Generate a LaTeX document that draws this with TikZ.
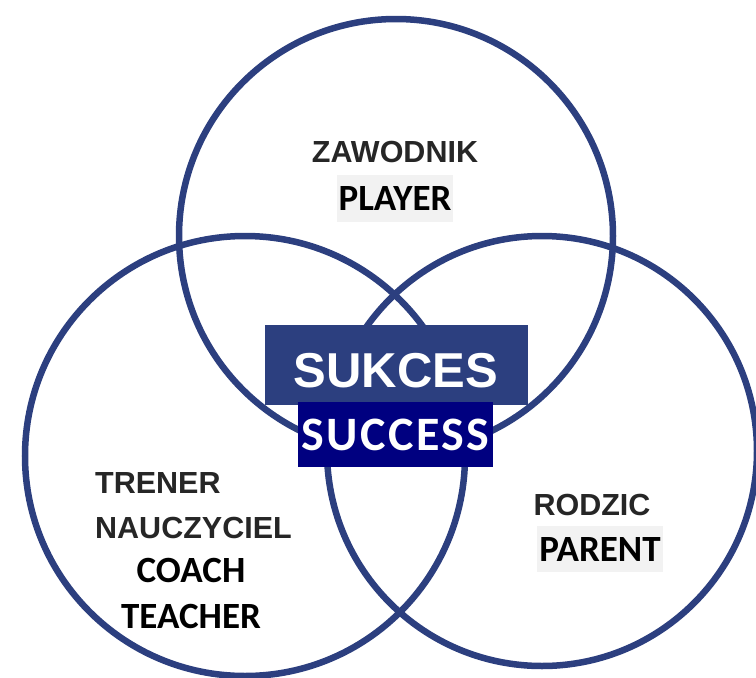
\documentclass[tikz,border=0pt]{standalone}
\usepackage{fontspec}
\setmainfont{Carlito}
\newfontfamily\plfont{Liberation Sans}
\usetikzlibrary{positioning}
\definecolor{ringblue}{RGB}{44,63,127}
\definecolor{boxnavy}{RGB}{0,0,128}
\definecolor{tagbg}{RGB}{242,242,242}
\definecolor{pltext}{RGB}{38,38,38}
\tikzset{ring/.style={circle, draw=ringblue, line width=6.5pt, inner sep=0pt},
         pl/.style={text=pltext, font=\plfont\bfseries\fontsize{30.5}{32}\selectfont, inner sep=0pt},
         en/.style={text=black, font=\bfseries\fontsize{37}{38}\selectfont, inner sep=0pt}}

\begin{document}
\begin{tikzpicture}[x=1pt, y=-1pt]
  \useasboundingbox (0,0) rectangle (756,678);

  % the three circles
  \node[ring, minimum size=434pt] (playerring) at (396,236) {};
  \node[ring, minimum size=440pt] (coachring)  at (245,456) {};
  \node[ring, minimum size=430pt] (parentring) at (542,451) {};

  % player
  \node[pl] (zawodnik) at (395,152) {ZAWODNIK};
  \node[en, fill=tagbg, minimum width=116pt, minimum height=47pt,
        below=12pt of zawodnik] (player) {PLAYER};

  % coach / teacher
  \node[pl, anchor=west] (trener) at (95,483) {TRENER};
  \node[pl, anchor=west] (nauczyciel) at (95,528) {NAUCZYCIEL};
  \node[en] (coach) at (191,570) {COACH};
  \node[en] (teacher) at (191,616) {TEACHER};

  % parent
  \node[pl] (rodzic) at (592,505) {RODZIC};
  \node[en, fill=tagbg, minimum width=126pt, minimum height=46pt] (parent) at (600,549) {PARENT};

  % success in the middle
  \node[fill=ringblue, minimum width=263pt, minimum height=80pt, inner sep=0pt] (sukcesbox) at (396.5,365) {};
  \node[text=white, font=\plfont\bfseries\fontsize{49}{50}\selectfont, inner sep=0pt] (sukces) at (396,371) {SUKCES};
  \node[fill=boxnavy, text=white, minimum width=195pt, minimum height=65pt, inner sep=0pt,
        font=\bfseries\fontsize{48}{50}\selectfont\addfontfeature{LetterSpace=5}] (success) at (395.5,434.5) {SUCCESS};
\end{tikzpicture}
\end{document}
